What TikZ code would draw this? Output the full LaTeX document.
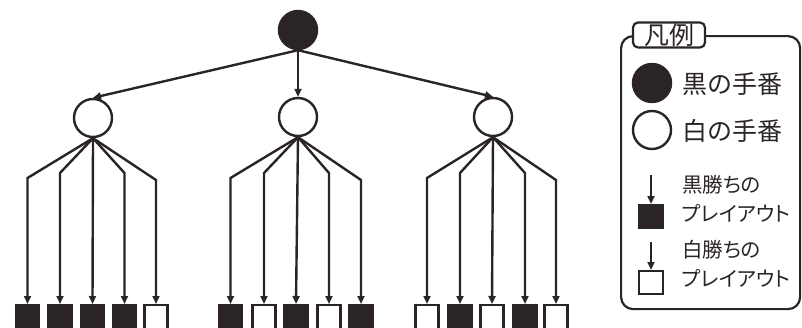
\documentclass[tikz,border=0pt]{standalone}
\usepackage{fontspec}
\setmainfont{Noto Sans CJK JP}
\newfontfamily\propfont[RawFeature=+palt]{Noto Sans CJK JP}
\usetikzlibrary{arrows.meta}
\definecolor{ink}{HTML}{2B2424}
\tikzset{
  bstate/.style={circle,draw=ink,fill=ink,line width=2.4pt,minimum size=38pt,inner sep=0pt},
  wstate/.style={circle,draw=ink,fill=white,line width=2.4pt,minimum size=38pt,inner sep=0pt},
  bleaf/.style={rectangle,draw=ink,fill=ink,line width=2.2pt,minimum width=23pt,minimum height=30pt,inner sep=0pt,anchor=north},
  wleaf/.style={rectangle,draw=ink,fill=white,line width=2.2pt,minimum width=23pt,minimum height=30pt,inner sep=0pt,anchor=north},
  arr/.style={draw=ink,line width=2.4pt,-{Triangle[length=8pt,width=7pt]}},
  big/.style={font=\fontsize{25}{28}\selectfont,inner sep=0pt,anchor=west,text=ink},
  small/.style={font=\propfont\fontsize{20.5}{24}\selectfont,inner sep=0pt,anchor=west,text=ink},
}
\begin{document}
\begin{tikzpicture}[x=1pt,y=-1pt]
\useasboundingbox (0,0) rectangle (802,327);
\clip (0,0) rectangle (802,327);
% tree
\node[bstate] (root) at (298,30) {};
\node[wstate] (c1) at (93,118) {};
\node[wstate] (c2) at (298,117) {};
\node[wstate] (c3) at (493,117) {};
\draw[arr] (root.south) -- (c1.north);
\draw[arr] (root.south) -- (c2.north);
\draw[arr] (root.south) -- (c3.north);
% leaves group 1
\node[bleaf] (a1) at (27.5,304) {};
\node[bleaf] (a2) at (60,304) {};
\node[bleaf] (a3) at (92.5,304) {};
\node[bleaf] (a4) at (124.5,304) {};
\node[wleaf] (a5) at (156,304) {};
% group 2
\node[bleaf] (b1) at (230.5,304) {};
\node[wleaf] (b2) at (264,304) {};
\node[bleaf] (b3) at (296,304) {};
\node[wleaf] (b4) at (329,304) {};
\node[bleaf] (b5) at (361,304) {};
% group 3
\node[wleaf] (d1) at (427,304) {};
\node[bleaf] (d2) at (460,304) {};
\node[wleaf] (d3) at (492,304) {};
\node[bleaf] (d4) at (525,304) {};
\node[wleaf] (d5) at (556,304) {};
\foreach \p/\g in {c1/a,c2/b,c3/d}{
  \draw[arr] (\p.south) -- ([yshift=126pt]\g1.north) -- (\g1.north);
  \draw[arr] (\p.south) -- ([yshift=131pt]\g2.north) -- (\g2.north);
  \draw[arr] (\p.south) -- (\g3.north);
  \draw[arr] (\p.south) -- ([yshift=131pt]\g4.north) -- (\g4.north);
  \draw[arr] (\p.south) -- ([yshift=124pt]\g5.north) -- (\g5.north);
}
% legend
\node[draw=ink,line width=2.2pt,rounded corners=12pt,minimum width=179pt,minimum height=273pt,anchor=north west,inner sep=0pt] (legend) at (620,35) {};
\node[draw=ink,fill=white,line width=2.2pt,rounded corners=5pt,minimum width=72pt,minimum height=25pt,inner sep=0pt,font=\fontsize{25}{27}\selectfont,text=ink] (ltitle) at (669,35) {凡例};
\node[bstate] (lb) at (652,83) {};
\node[big] (lbt) at (682,84) {黒の手番};
\node[wstate] (lw) at (652,130) {};
\node[big] (lwt) at (682,131) {白の手番};
\coordinate (la1) at (651,175);
\node[bleaf,minimum width=24pt,minimum height=23pt] (lsq1) at (651,204) {};
\draw[arr] (la1) -- (lsq1.north);
\node[small] (t1) at (682,185) {黒勝ちの};
\node[small] (t2) at (682,213) {プレイアウト};
\coordinate (la2) at (651,242);
\node[wleaf,minimum width=24pt,minimum height=23pt] (lsq2) at (651,270) {};
\draw[arr] (la2) -- (lsq2.north);
\node[small] (t3) at (682,250) {白勝ちの};
\node[small] (t4) at (682,278) {プレイアウト};
\end{tikzpicture}
\end{document}
